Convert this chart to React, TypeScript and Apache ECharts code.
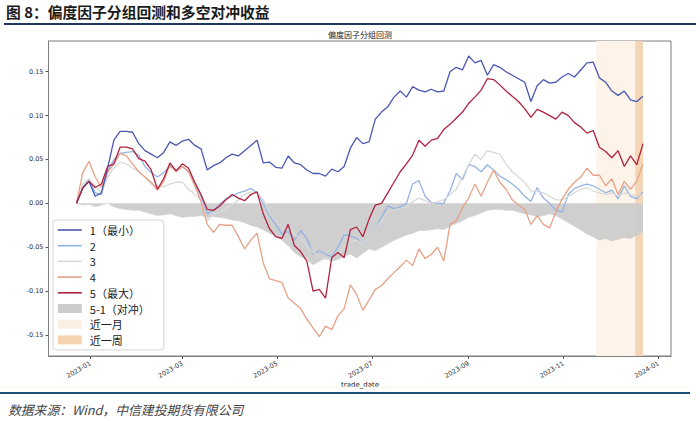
import React, { useEffect, useRef } from 'react';
import * as echarts from 'echarts';

// Sample dates: every 4 calendar days starting 2022-12-23
const startDate = '2022-12-23';
const stepDays = 4;

const group1 = [0.000,0.018,0.025,0.008,0.012,0.040,0.072,0.082,0.082,0.081,
0.068,0.060,0.056,0.052,0.058,0.070,0.066,0.071,0.073,0.066,
0.062,0.038,0.043,0.046,0.052,0.056,0.054,0.060,0.066,0.072,
0.046,0.047,0.041,0.040,0.054,0.046,0.044,0.038,0.034,0.034,
0.031,0.039,0.036,0.042,0.063,0.075,0.068,0.070,0.096,0.104,
0.110,0.121,0.128,0.121,0.133,0.129,0.127,0.130,0.127,0.128,
0.150,0.155,0.152,0.168,0.160,0.163,0.146,0.158,0.155,0.150,
0.146,0.142,0.138,0.116,0.134,0.141,0.137,0.138,0.144,0.148,
0.144,0.152,0.160,0.161,0.143,0.138,0.128,0.123,0.128,0.118,
0.116,0.122];

const group2 = [0.000,0.018,0.027,0.012,0.010,0.036,0.050,0.057,0.058,0.059,
0.055,0.042,0.035,0.030,0.035,0.042,0.038,0.042,0.036,0.022,
0.008,-0.012,-0.008,-0.001,0.005,0.008,0.012,0.014,0.017,0.012,
0.000,-0.014,-0.024,-0.035,-0.032,-0.042,-0.031,-0.040,-0.058,-0.054,
-0.058,-0.061,-0.050,-0.036,-0.037,-0.040,-0.046,-0.040,-0.028,-0.016,
-0.003,-0.006,-0.004,0.000,0.022,0.026,0.008,0.001,0.000,0.000,
0.014,0.034,0.027,0.044,0.042,0.036,0.044,0.038,0.031,0.027,
0.022,0.016,0.008,0.002,0.018,0.006,0.000,-0.008,-0.010,0.010,
0.017,0.020,0.022,0.020,0.016,0.012,0.015,0.005,0.020,0.008,
0.005,0.013];

const group3 = [0.000,0.022,0.028,0.020,0.012,0.030,0.040,0.047,0.045,0.040,
0.036,0.030,0.022,0.020,0.019,0.022,0.024,0.024,0.016,0.010,
0.004,-0.020,-0.012,-0.010,-0.006,-0.002,0.004,0.010,0.013,0.012,
0.004,-0.012,-0.020,-0.027,-0.030,-0.035,-0.040,-0.048,-0.056,-0.060,
-0.064,-0.062,-0.058,-0.050,-0.044,-0.042,-0.046,-0.040,-0.028,-0.020,
-0.010,-0.008,-0.006,-0.004,0.002,0.006,0.003,0.000,0.002,0.004,
0.010,0.016,0.030,0.044,0.056,0.050,0.060,0.058,0.056,0.045,
0.036,0.030,0.024,0.014,0.014,0.012,0.008,0.004,0.004,0.008,
0.012,0.016,0.018,0.014,0.012,0.010,0.012,0.008,0.012,0.010,
0.008,0.010];

const group4 = [0.000,0.035,0.048,0.030,0.018,0.035,0.045,0.057,0.054,0.045,
0.036,0.030,0.024,0.015,0.025,0.044,0.036,0.042,0.036,0.020,
0.002,-0.024,-0.033,-0.024,-0.025,-0.025,-0.038,-0.052,-0.042,-0.034,
-0.068,-0.086,-0.088,-0.090,-0.108,-0.114,-0.120,-0.132,-0.142,-0.152,
-0.140,-0.144,-0.128,-0.120,-0.093,-0.104,-0.122,-0.110,-0.098,-0.094,
-0.086,-0.079,-0.072,-0.065,-0.071,-0.052,-0.063,-0.058,-0.050,-0.066,
-0.024,-0.020,-0.005,0.006,0.022,0.008,0.024,0.038,0.024,0.016,
0.004,-0.002,-0.007,-0.024,-0.014,-0.024,-0.028,-0.010,0.005,0.016,
0.024,0.030,0.040,0.032,0.032,0.020,0.028,0.010,0.025,0.016,
0.025,0.045];

const group5 = [0.000,0.017,0.025,0.018,0.022,0.042,0.045,0.064,0.064,0.062,
0.051,0.048,0.038,0.016,0.028,0.046,0.037,0.045,0.040,0.024,
0.010,-0.007,-0.008,-0.003,0.004,0.010,0.006,0.003,0.010,0.013,
-0.012,-0.029,-0.038,-0.040,-0.024,-0.048,-0.055,-0.066,-0.100,-0.098,
-0.108,-0.062,-0.056,-0.062,-0.030,-0.027,-0.038,-0.018,-0.002,0.000,
0.012,0.024,0.036,0.045,0.055,0.072,0.065,0.072,0.074,0.084,
0.090,0.097,0.104,0.114,0.121,0.129,0.142,0.141,0.135,0.128,
0.122,0.116,0.108,0.098,0.107,0.104,0.100,0.096,0.104,0.100,
0.092,0.087,0.080,0.083,0.064,0.059,0.052,0.060,0.042,0.054,
0.044,0.068];

const spread = [0.000,-0.002,-0.001,-0.004,-0.002,0.000,-0.004,-0.006,-0.007,-0.008,
-0.008,-0.010,-0.012,-0.014,-0.013,-0.012,-0.014,-0.016,-0.015,-0.015,
-0.014,-0.016,-0.015,-0.016,-0.017,-0.019,-0.020,-0.022,-0.025,-0.027,
-0.030,-0.034,-0.038,-0.042,-0.048,-0.056,-0.061,-0.064,-0.070,-0.066,
-0.062,-0.066,-0.064,-0.060,-0.058,-0.062,-0.057,-0.052,-0.054,-0.050,
-0.046,-0.042,-0.039,-0.036,-0.034,-0.031,-0.031,-0.030,-0.029,-0.030,
-0.026,-0.023,-0.020,-0.016,-0.014,-0.011,-0.008,-0.007,-0.007,-0.008,
-0.008,-0.010,-0.012,-0.013,-0.015,-0.014,-0.012,-0.014,-0.018,-0.022,
-0.026,-0.030,-0.035,-0.038,-0.042,-0.040,-0.043,-0.041,-0.039,-0.040,
-0.036,-0.033];

const monthBand = ['2023-11-22', '2023-12-22'];
const weekBand = ['2023-12-17', '2023-12-22'];
const xTickDates = ['2023-01-01', '2023-03-01', '2023-05-01', '2023-07-01', '2023-09-01', '2023-11-01', '2024-01-01'];
const xTickLabels = ['2023-01', '2023-03', '2023-05', '2023-07', '2023-09', '2023-11', '2024-01'];
const yTicks = [-0.15, -0.1, -0.05, 0, 0.05, 0.1, 0.15];
const xRange = ['2022-12-05', '2024-01-09'];
const yRange = [-0.174, 0.185];

const names = ['1（最小）', '2', '3', '4', '5（最大）', '5-1（对冲）', '近一月', '近一周'];
const lineColors = ['#4a58b2', '#93b3e6', '#d9d9d9', '#e8a186', '#b0223f'];

const DAY = 86400000;
const base = Date.UTC(2023, 0, 1);
const dayOf = (s: string) => {
  const [y, m, d] = s.split('-').map(Number);
  return (Date.UTC(y, m - 1, d) - base) / DAY;
};
const startDay = dayOf(startDate);
const days = group1.map((_, i) => startDay + i * stepDays);
const pair = (arr: number[]) => arr.map((v, i) => [days[i], v]);

const CJK = '"Noto Sans CJK SC", "Noto Sans", sans-serif';

export default function App() {
  const ref = useRef<HTMLDivElement>(null);
  useEffect(() => {
    if (!ref.current) return;
    const chart = echarts.init(ref.current, undefined, { renderer: 'svg' });
    const groups = [group1, group2, group3, group4, group5];
    const tickDays = xTickDates.map(dayOf);
    const lineSeries = groups.map((g, i) => ({
      name: names[i],
      type: 'line',
      data: pair(g),
      symbol: 'none',
      z: 3 + (i === 0 || i === 4 ? 1 : 0),
      lineStyle: { width: 1.3, color: lineColors[i] },
      itemStyle: { color: lineColors[i] },
    }));
    chart.setOption({
      animation: false,
      backgroundColor: '#ffffff',
      grid: {
        left: 48.5, right: 29, top: 41, bottom: 65,
        show: true, borderColor: '#7f7f7f', borderWidth: 1, backgroundColor: 'transparent',
      },
      xAxis: {
        type: 'value',
        min: dayOf(xRange[0]),
        max: dayOf(xRange[1]),
        axisLine: { show: true, onZero: false, lineStyle: { color: '#7f7f7f', width: 1 } },
        axisTick: { show: true, customValues: tickDays, length: 3, inside: false, lineStyle: { color: '#555' } },
        axisLabel: {
          customValues: tickDays,
          rotate: 30,
          fontSize: 6.5,
          color: '#333',
          fontFamily: 'DejaVu Sans',
          margin: 7,
          formatter: (v: number) => {
            const idx = tickDays.indexOf(v);
            return idx >= 0 ? xTickLabels[idx] : '';
          },
        },
        splitLine: { show: false },
      },
      yAxis: {
        type: 'value',
        min: yRange[0],
        max: yRange[1],
        axisLine: { show: true, onZero: false, lineStyle: { color: '#7f7f7f', width: 1 } },
        axisTick: { show: true, customValues: yTicks, length: 3, lineStyle: { color: '#555' } },
        axisLabel: {
          customValues: yTicks,
          fontSize: 6.5,
          color: '#333',
          fontFamily: 'DejaVu Sans',
          margin: 5,
          formatter: (v: number) => v.toFixed(2),
        },
        splitLine: { show: false },
      },
      legend: {
        orient: 'vertical',
        left: 53,
        top: 220,
        padding: [4, 14, 4, 4],
        itemWidth: 24,
        itemHeight: 9,
        itemGap: 3.7,
        backgroundColor: 'rgba(255,255,255,0.88)',
        borderColor: '#d4d4d4',
        borderWidth: 1,
        borderRadius: 3,
        textStyle: { fontSize: 11, lineHeight: 12, color: '#222', fontFamily: CJK, padding: [0, 0, 0, 3] },
        data: [
          { name: names[0], itemStyle: { opacity: 0 }, lineStyle: { width: 1.6 } },
          { name: names[1], itemStyle: { opacity: 0 }, lineStyle: { width: 1.6 } },
          { name: names[2], itemStyle: { opacity: 0 }, lineStyle: { width: 1.6 } },
          { name: names[3], itemStyle: { opacity: 0 }, lineStyle: { width: 1.6 } },
          { name: names[4], itemStyle: { opacity: 0 }, lineStyle: { width: 1.6 } },
          { name: names[5], icon: 'rect' },
          { name: names[6], icon: 'rect' },
          { name: names[7], icon: 'rect' },
        ],
      },
      series: [
        {
          name: names[6],
          type: 'line',
          data: [],
          color: '#fcf0e4',
          itemStyle: { color: '#fcf0e4' },
          z: 0,
          markArea: {
            silent: true,
            itemStyle: { color: '#fdf3e8' },
            data: [[{ xAxis: dayOf(monthBand[0]) }, { xAxis: dayOf(monthBand[1]) }]],
          },
        },
        {
          name: names[7],
          type: 'line',
          data: [],
          color: '#f4d4b1',
          itemStyle: { color: '#f4d4b1' },
          z: 1,
          markArea: {
            silent: true,
            itemStyle: { color: '#f4d6b6' },
            data: [[{ xAxis: dayOf(weekBand[0]) }, { xAxis: dayOf(weekBand[1]) }]],
          },
        },
        {
          name: names[5],
          type: 'line',
          data: pair(spread),
          symbol: 'none',
          z: 2,
          color: '#cccccc',
          itemStyle: { color: '#cccccc' },
          lineStyle: { width: 0.6, color: '#cfcfcf' },
          areaStyle: { color: '#cccccc', opacity: 0.95, origin: 0 },
        },
        ...lineSeries,
      ],
      graphic: [
        {
          type: 'text', left: 6, top: 4,
          style: { text: '图 8：偏度因子分组回测和多空对冲收益', font: `bold 14.8px ${CJK}`, fill: '#1a1a1a' },
        },
        {
          type: 'line', shape: { x1: 4, y1: 24, x2: 696, y2: 24 },
          style: { stroke: '#1f3a5c', lineWidth: 2 },
        },
        {
          type: 'text', x: 360, y: 30,
          style: { text: '偏度因子分组回测', font: `8px ${CJK}`, fill: '#222', textAlign: 'center' },
        },
        {
          type: 'text', x: 360, y: 381,
          style: { text: 'trade_date', font: '7px "DejaVu Sans"', fill: '#222', textAlign: 'center' },
        },
        {
          type: 'line', shape: { x1: 0, y1: 387, x2: 690, y2: 387 },
          style: { stroke: '#fbf3e6', lineWidth: 1 },
        },
        {
          type: 'line', shape: { x1: 0, y1: 393, x2: 690, y2: 393 },
          style: { stroke: '#1f4e79', lineWidth: 2 },
        },
        {
          type: 'text', left: 8, top: 403,
          style: { text: '数据来源：Wind，中信建投期货有限公司', font: `italic 12.8px ${CJK}`, fill: '#444' },
        },
      ],
    });
    return () => chart.dispose();
  }, []);
  return <div ref={ref} style={{ position: 'fixed', left: 0, top: 0, width: 700, height: 421 }} />;
}
